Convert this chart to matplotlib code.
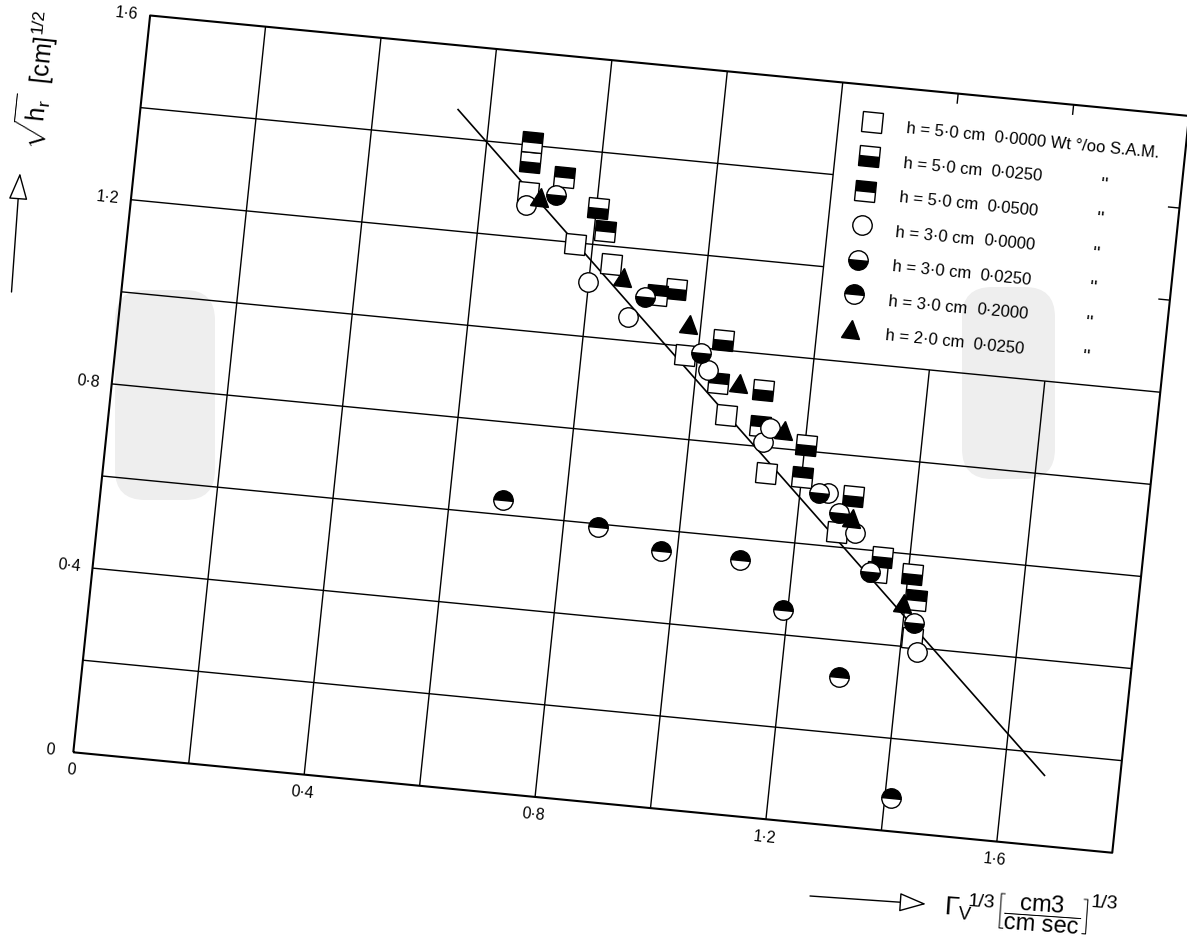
import numpy as np
import matplotlib
matplotlib.use('Agg')
import matplotlib.pyplot as plt
from matplotlib.markers import MarkerStyle
from matplotlib.transforms import Affine2D, IdentityTransform
from matplotlib.patches import FancyBboxPatch

# values, x = Gamma_v^(1/3), y = sqrt(h_r)
x_h5_0000 = [0.679, 0.770, 0.835, 0.978, 1.059, 1.139, 1.270, 1.347, 1.418]
y_h5_0000 = [1.300, 1.197, 1.162, 0.981, 0.861, 0.744, 0.633, 0.555, 0.419]

x_h5_0250 = [0.678, 0.803, 0.951, 1.040, 1.119, 1.202, 1.291, 1.352, 1.407]
y_h5_0250 = [1.363, 1.279, 1.121, 1.021, 0.922, 0.813, 0.713, 0.587, 0.557]

x_h5_0500 = [0.678, 0.739, 0.818, 0.920, 1.040, 1.120, 1.200, 1.418]
y_h5_0500 = [1.408, 1.338, 1.231, 1.105, 0.929, 0.844, 0.744, 0.503]

x_h3_0000 = [0.679, 0.799, 0.874, 1.021, 1.128, 1.137, 1.249, 1.302, 1.429]
y_h3_0000 = [1.271, 1.119, 1.051, 0.954, 0.811, 0.842, 0.714, 0.633, 0.392]

x_h3_0250 = [0.728, 0.899, 1.005, 1.232, 1.270, 1.334, 1.419]
y_h3_0250 = [1.298, 1.098, 0.988, 0.712, 0.673, 0.554, 0.453]

x_h3_2000 = [0.692, 0.859, 0.972, 1.109, 1.192, 1.299, 1.410]
y_h3_2000 = [0.632, 0.593, 0.555, 0.553, 0.453, 0.322, 0.071]

x_h2_0250 = [0.701, 0.858, 0.980, 1.075, 1.161, 1.293, 1.396]
y_h2_0250 = [1.291, 1.136, 1.049, 0.932, 0.841, 0.665, 0.493]

fit_x = [0.544, 1.671]
fit_y = [1.463, 0.151]

heights = ['h = 5·0 cm', 'h = 5·0 cm', 'h = 5·0 cm', 'h = 3·0 cm',
           'h = 3·0 cm', 'h = 3·0 cm', 'h = 2·0 cm']
concs = ['0·0000 Wt °/oo S.A.M.', '0·0250', '0·0500', '0·0000',
         '0·0250', '0·2000', '0·0250']
xticks = [0, 0.4, 0.8, 1.2, 1.6]
xtick_labels = ['0', '0·4', '0·8', '1·2', '1·6']
ytick_labels = ['0', '0·4', '0·8', '1·2', '1·6']

series = [
    (x_h5_0000, y_h5_0000, 's', 'full', 'white'),
    (x_h5_0250, y_h5_0250, 's', 'bottom', 'black'),
    (x_h5_0500, y_h5_0500, 's', 'top', 'black'),
    (x_h3_0000, y_h3_0000, 'o', 'full', 'white'),
    (x_h3_0250, y_h3_0250, 'o', 'bottom', 'black'),
    (x_h3_2000, y_h3_2000, 'o', 'top', 'black'),
    (x_h2_0250, y_h2_0250, '^', 'full', 'black'),
]

plt.rcParams['font.family'] = ['Liberation Sans', 'DejaVu Sans']
plt.rcParams['mathtext.fontset'] = 'custom'
plt.rcParams['mathtext.rm'] = 'Liberation Sans'
plt.rcParams['mathtext.it'] = 'Liberation Sans:italic'

W, H = 1187, 952
fig = plt.figure(figsize=(W / 100, H / 100), dpi=100)

# scanned page is tilted: origin and pixels per unit along each axis
x0, y0 = 73.3, H - 752.3
ux, uy = 577.2, 460.5
ax = fig.add_axes([x0 / W, y0 / H, ux * 1.8 / W, uy * 1.6 / H])
ax.set_xlim(0, 1.8)
ax.set_ylim(0, 1.6)
ax.axis('off')

skew = Affine2D(np.array([[1, 48 / uy, 0], [-55.8 / ux, 1, 0], [0, 0, 1]]))
tr = ax.transData + Affine2D().translate(-x0, -y0) + skew + Affine2D().translate(x0, y0)
rot = -5.5

# grey smudges on the scan
for (px, py, pw, ph) in [(115, 290, 100, 210), (962, 287, 93, 192)]:
    ax.add_patch(FancyBboxPatch((px, H - py - ph), pw, ph, boxstyle='round,pad=0,rounding_size=30',
                                transform=IdentityTransform(), fc='#eeeeee', ec='none',
                                clip_on=False, zorder=0.5))

lk = dict(color='black', transform=tr, clip_on=False, solid_capstyle='butt')
for gx in [0.2, 0.4, 0.6, 0.8, 1.0, 1.2]:
    ax.plot([gx, gx], [0, 1.6], lw=1.0, **lk)
for gx in [1.4, 1.6]:
    ax.plot([gx, gx], [0, 1.0], lw=1.0, **lk)
    ax.plot([gx, gx], [1.6, 1.578], lw=1.0, **lk)
for gy in [0.2, 0.4, 0.6, 0.8, 1.0]:
    ax.plot([0, 1.8], [gy, gy], lw=1.0, **lk)
for gy in [1.2, 1.4]:
    ax.plot([0, 1.2], [gy, gy], lw=1.0, **lk)
    ax.plot([1.8, 1.78], [gy, gy], lw=1.0, **lk)
ax.plot([0, 1.8, 1.8, 0, 0], [0, 0, 1.6, 1.6, 0], lw=1.5, **lk)

for v, s in zip(xticks, xtick_labels):
    ax.text(v, -0.039, s, transform=tr, ha='center', va='center', fontsize=11.5, rotation=rot)
for v, s in zip(xticks, ytick_labels):
    ax.text(-0.040, v, s, transform=tr, ha='center', va='center', fontsize=11.5, rotation=rot)

ax.plot(fit_x, fit_y, lw=1.2, zorder=2, **lk)

def mk(m, fs):
    return MarkerStyle(m, fs, Affine2D().rotate_deg(rot))

for xs, ys, m, fs, fc in series:
    ax.plot(xs, ys, ls='none', marker=mk(m, fs), ms=13 if m == '^' else 14,
            mfc=fc, mfcalt='white', mec='black', mew=1.0,
            transform=tr, clip_on=False, zorder=3)

# legend drawn inside the plot frame like the original
for i, (xs, ys, m, fs, fc) in enumerate(series):
    ly = 1.522 - 0.075 * i
    ax.plot([1.258], [ly], ls='none', marker=mk(m, fs), ms=13 if m == '^' else 14,
            mfc=fc, mfcalt='white', mec='black', mew=1.0,
            transform=tr, clip_on=False, zorder=3)
    ax.text(1.318, ly - 0.008, heights[i], transform=tr, ha='left', va='center',
            fontsize=12, rotation=rot, rotation_mode='anchor', zorder=4)
    ax.text(1.47, ly - 0.008, concs[i], transform=tr, ha='left', va='center',
            fontsize=12, rotation=rot, rotation_mode='anchor', zorder=4)
    if i > 0:
        ax.text(1.66, ly - 0.014, '"', transform=tr, ha='left', va='center',
                fontsize=15, rotation=rot, rotation_mode='anchor', zorder=4)

# axis titles with hollow arrows
arr = dict(arrowstyle='-|>,head_length=0.85,head_width=0.3', fc='white', ec='black',
           lw=1.0, mutation_scale=20, shrinkA=0, shrinkB=0)
ax.annotate('', xy=(20, H - 173), xytext=(11.5, H - 292), xycoords='figure pixels',
            textcoords='figure pixels', arrowprops=arr)
ax.annotate('', xy=(926, H - 904), xytext=(810, H - 896), xycoords='figure pixels',
            textcoords='figure pixels', arrowprops=arr)
fig.text(37 / W, (H - 80) / H, r'$\sqrt{\mathrm{h}_\mathrm{r}}\ \ [\mathrm{cm}]^{1/2}$', rotation=84,
         ha='center', va='center', fontsize=18)

tk = dict(rotation=-4, rotation_mode='anchor', ha='left', va='center')
fig.text(944 / W, (H - 908) / H, r'$\Gamma_\mathrm{V}$', fontsize=19, **tk)
fig.text(968 / W, (H - 902) / H, '1/3', fontsize=14, **tk)
fig.text(994 / W, (H - 910) / H,
         r'$\left[\dfrac{\mathrm{cm3}}{\mathrm{cm\ sec}}\right]$', fontsize=17, **tk)
fig.text(1091 / W, (H - 903) / H, '1/3', fontsize=14, **tk)

fig.savefig('out.png', dpi=100)
